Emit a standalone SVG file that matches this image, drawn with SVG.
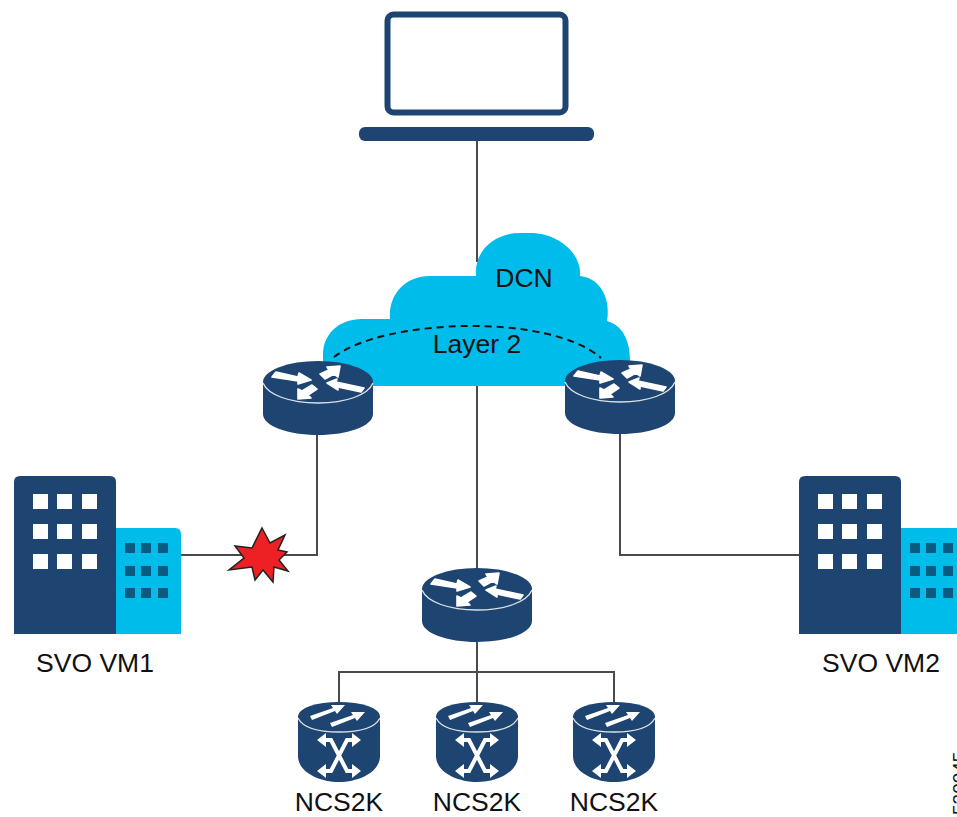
<svg xmlns="http://www.w3.org/2000/svg" xmlns:xlink="http://www.w3.org/1999/xlink" width="957" height="817" viewBox="0 0 957 817">
<style>
text{font-family:"Liberation Sans",Arial,sans-serif;font-size:26.5px;fill:#111;text-anchor:middle}
.navy{fill:#1e4471}
.sky{fill:#00bceb}
.w{fill:#fff}
.a{fill:#fff;stroke:#fff;stroke-width:1.6;stroke-linejoin:round}
.rim{fill:none;stroke:#fff;stroke-width:1.3;opacity:.85}
.conn{fill:none;stroke:#4a4a4a;stroke-width:2}
.mini{fill:#0b5a80}
</style>
<defs>
<g id="router">
<path class="navy" d="M-55 0V32C-55 44-30 53 0 53S55 44 55 32V0Z"/>
<ellipse class="navy" cx="0" cy="0" rx="55" ry="21"/>
<path class="rim" d="M-55 1C-50 13-28 21 0 21S50 13 55 1"/>
<path class="a" d="M-46-5-42-10-20-5-19-9-7-2-20 2-20-1Z"/>
<path class="a" d="M22-16 20-5 16-8 7-3 2-8 11-12 9-15Z"/>
<path class="a" d="M9 1 19-3 18 0 46 6 43 10 20 5 20 8Z"/>
<path class="a" d="M-20 17-20 7-16 9-6 3-1 7-10 13-7 16Z"/>
</g>
<g id="ncs">
<path class="navy" d="M-41 14V54C-41 70-20 80 0 80S41 70 41 54V14Z"/>
<ellipse class="navy" cx="0" cy="14" rx="41" ry="14"/>
<path class="rim" d="M-41 16C-36 26-20 30 0 30S36 26 41 16"/>
<path class="w" d="M-29 14-6 6-8 3 6 3-2 12-4 9-27 18Z"/>
<path class="w" d="M-9 21 14 13 12 10 26 10 18 19 16 16-7 25Z"/>
<path fill="none" stroke="#fff" stroke-width="4" d="M-15 38H-8L8 69H15M15 38H8L-8 69H-15"/>
<path class="w" d="M-13 31-22 38-13 45ZM13 31 22 38 13 45ZM-13 62-22 69-13 76ZM13 62 22 69 13 76Z"/>
</g>
<g id="building">
<path class="navy" d="M0 634V482Q0 476 6 476H96Q102 476 102 482V634Z" transform="translate(14 0)"/>
<path class="sky" d="M116 528H175Q181 528 181 534V634H116Z"/>
<g class="w">
<rect x="33" y="494" width="15" height="15"/><rect x="57" y="494" width="15" height="15"/><rect x="82" y="494" width="15" height="15"/>
<rect x="33" y="524" width="15" height="15"/><rect x="57" y="524" width="15" height="15"/><rect x="82" y="524" width="15" height="15"/>
<rect x="33" y="554" width="15" height="15"/><rect x="57" y="554" width="15" height="15"/><rect x="82" y="554" width="15" height="15"/>
</g>
<g class="mini">
<rect x="125" y="543" width="10" height="10"/><rect x="141" y="543" width="10" height="10"/><rect x="158" y="543" width="10" height="10"/>
<rect x="125" y="566" width="10" height="10"/><rect x="141" y="566" width="10" height="10"/><rect x="158" y="566" width="10" height="10"/>
<rect x="125" y="588" width="10" height="10"/><rect x="141" y="588" width="10" height="10"/><rect x="158" y="588" width="10" height="10"/>
</g>
</g>
</defs>
<g id="connectors">
<path class="conn" d="M477 141V262"/>
<path class="conn" d="M477 386V570"/>
<path class="conn" d="M477 640V702"/>
<path class="conn" d="M339 702V672H614V702"/>
<path class="conn" d="M181 555H317V434"/>
<path class="conn" d="M620 434V555H799"/>
</g>
<g id="cloud">
<path class="sky" d="M323 386V355C323 333 340 319 362 319H390C388 295 405 276 430 276H476C474 250 495 233 520 233H530C560 233 582 255 580 276C600 278 611 298 607 321C622 325 630 340 630 360V386Z"/>
<path fill="none" stroke="#111" stroke-width="2" stroke-dasharray="7 5" d="M334 357C385 318 550 313 601 358"/>
<text x="524" y="287">DCN</text>
<text x="477" y="353">Layer 2</text>
</g>
<g id="laptop">
<rect x="387.500" y="14.500" width="178" height="98" rx="6" fill="#fff" stroke="#1e4471" stroke-width="6"/>
<rect class="navy" x="359" y="127" width="235" height="14" rx="6"/>
</g>
<use id="router-left" xlink:href="#router" href="#router" x="318" y="382"/>
<use id="router-right" xlink:href="#router" href="#router" x="620" y="381"/>
<use id="router-center" xlink:href="#router" href="#router" x="477" y="589"/>
<g id="ncs-1"><use xlink:href="#ncs" href="#ncs" x="339" y="702"/><text x="339" y="811">NCS2K</text></g>
<g id="ncs-2"><use xlink:href="#ncs" href="#ncs" x="477" y="702"/><text x="477" y="811">NCS2K</text></g>
<g id="ncs-3"><use xlink:href="#ncs" href="#ncs" x="614" y="702"/><text x="614" y="811">NCS2K</text></g>
<g id="svo-vm1"><use xlink:href="#building" href="#building"/><text x="95" y="672">SVO VM1</text></g>
<g id="svo-vm2"><use xlink:href="#building" href="#building" x="785"/><text x="881" y="672">SVO VM2</text></g>
<polygon id="fault" fill="#ee2024" stroke="#222" stroke-width="1.500" points="262,528 270,543 285,535 278,550 287,552 279,560 288,571 274,567 273,582 263,570 255,580 252,567 229,570 244,558 235,546 252,548"/>
<text x="0" y="0" transform="translate(966 815) rotate(-90)" style="font-size:19px;text-anchor:start">530045</text>
</svg>
